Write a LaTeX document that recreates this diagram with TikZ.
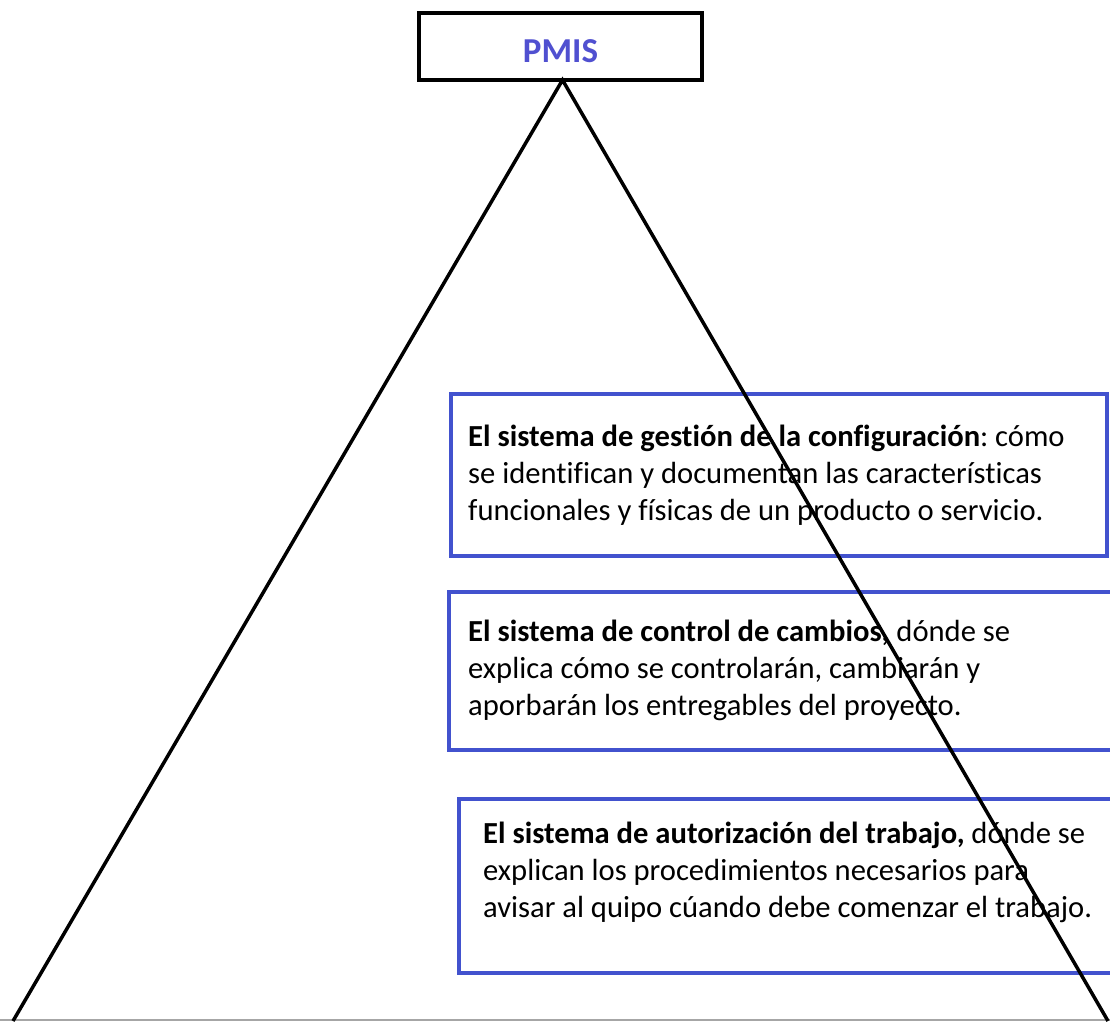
\documentclass[tikz,border=0pt]{standalone}
\usepackage{fontspec}
\setmainfont{Carlito}[Ligatures=NoCommon]
\definecolor{boxblue}{RGB}{66,82,206}
\definecolor{titleblue}{RGB}{80,80,208}
\frenchspacing

\begin{document}
\begin{tikzpicture}[x=1pt,y=-1pt,
  bluebox/.style={draw=boxblue, line width=3.5pt, rectangle, inner sep=0pt, outer sep=0pt, anchor=north west},
  boxtext/.style={anchor=base west, inner sep=0pt, align=left, text=black, font=\fontsize{30.6}{37}\selectfont},
  side/.style={line width=3.5pt}]
\clip (0,0) rectangle (1110,1021);

\node[draw, line width=4pt, minimum width=283pt, minimum height=67pt, inner sep=0pt, outer sep=0pt,
  text height=32pt, text depth=0pt, text=titleblue, font=\fontsize{35}{40}\selectfont\bfseries] (pmis) at (560.5,46.5) {PMIS};

\node[bluebox, minimum width=656pt, minimum height=162pt] (box1) at (451,394) {};
\node[bluebox, minimum width=680pt, minimum height=158pt] (box2) at (449,592) {};
\node[bluebox, minimum width=670pt, minimum height=174pt] (box3) at (459,799) {};

% base anchor sits on the last line
\node[boxtext] (txt1) at (468,520) {\textbf{El sistema de gestión de la configuración}: cómo\\
se identifican y documentan las características\\
funcionales y físicas de un producto o servicio.};
\node[boxtext] (txt2) at (468,715) {\textbf{El sistema de control de cambios,} dónde se\\
explica cómo se controlarán, cambiarán y\\
aporbarán los entregables del proyecto.};
\node[boxtext] (txt3) at (483,917) {\textbf{El sistema de autorización del trabajo,} dónde se\\
explican los procedimientos necesarios para\\
avisar al quipo cúando debe comenzar el trabajo.};

\coordinate (footL) at (13,1021);
\coordinate (footR) at (1108,1021);
\coordinate (baseL) at (0,1020);
\coordinate (baseR) at (1110,1020);

\draw[black!35, line width=1.5pt] (baseL) -- (baseR);
\draw[side] (footL) -- ([xshift=2pt]pmis.south) -- (footR);
\end{tikzpicture}
\end{document}
